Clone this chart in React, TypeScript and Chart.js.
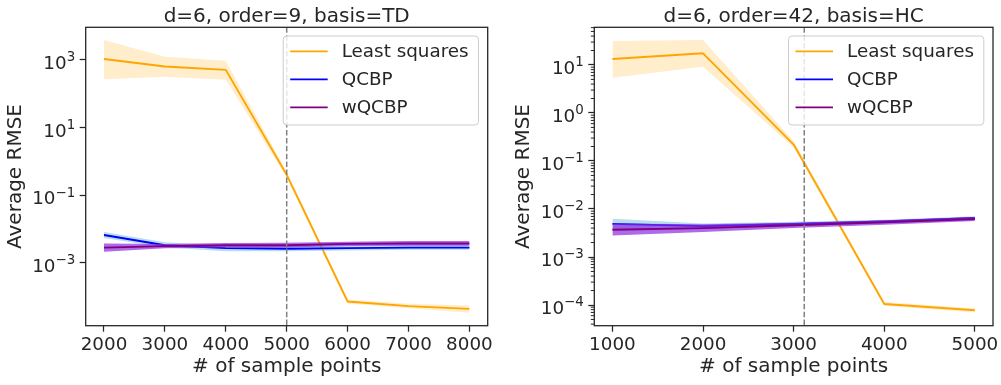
import React, { useEffect, useRef } from "react";
import { Chart, registerables } from "chart.js";

Chart.register(...registerables);

const FONT_FAMILY = '"DejaVu Sans", "Noto Sans", sans-serif';
const TEXT_COLOR = "#262626";
const TICK_FONT = 18.33;
const EXP_FONT = 13.4;
const LABEL_FONT = 20;

// ---- shared series info ----
const seriesLabels = ["Least squares", "QCBP", "wQCBP"];
const lineColors = ["#FFA500", "#0000FF", "#800080"];
const bandColors = ["rgba(255,165,0,0.2)", "rgba(135,200,220,0.6)", "rgba(138,43,226,0.7)"];
const xAxisLabel = "# of sample points";
const yAxisLabel = "Average RMSE";

// ---- left panel ----
const leftTitle = "d=6, order=9, basis=TD";
const leftSamples = [2000, 3000, 4000, 5000, 6000, 7000, 8000];
const leftLsMean = [1070, 640, 510, 0.4, 7.1e-5, 5.2e-5, 4.3e-5];
const leftLsUpper = [3900, 1250, 950, 0.49, 8.1e-5, 6.1e-5, 5.4e-5];
const leftLsLower = [270, 320, 260, 0.33, 6.2e-5, 4.5e-5, 3.3e-5];
const leftQcbpMean = [0.0066, 0.0033, 0.0027, 0.0026, 0.0027, 0.0028, 0.0028];
const leftQcbpUpper = [0.0081, 0.004, 0.0032, 0.0031, 0.0032, 0.0033, 0.0033];
const leftQcbpLower = [0.0054, 0.0028, 0.0022, 0.0022, 0.0023, 0.0024, 0.0024];
const leftWqcbpMean = [0.0028, 0.0031, 0.0033, 0.0033, 0.0036, 0.0037, 0.0037];
const leftWqcbpUpper = [0.0037, 0.0036, 0.0038, 0.0039, 0.0042, 0.0044, 0.0044];
const leftWqcbpLower = [0.0021, 0.0027, 0.0028, 0.0028, 0.0031, 0.0032, 0.0032];
const leftXTicks = [2000, 3000, 4000, 5000, 6000, 7000, 8000];
const leftYTickExps = [-3, -1, 1, 3];
const leftMinorExps: number[] = [];
const leftThreshold = 5000;

// ---- right panel ----
const rightTitle = "d=6, order=42, basis=HC";
const rightSamples = [1000, 2000, 3000, 4000, 5000];
const rightLsMean = [13.3, 17.5, 0.22, 1.05e-4, 7.8e-5];
const rightLsUpper = [31.6, 33, 0.26, 1.15e-4, 8.6e-5];
const rightLsLower = [5.4, 9.2, 0.19, 0.96e-4, 7.0e-5];
const rightQcbpMean = [0.0049, 0.0044, 0.0049, 0.0055, 0.0065];
const rightQcbpUpper = [0.0063, 0.005, 0.0054, 0.006, 0.0071];
const rightQcbpLower = [0.0038, 0.0038, 0.0044, 0.005, 0.0059];
const rightWqcbpMean = [0.0037, 0.004, 0.0046, 0.0053, 0.0062];
const rightWqcbpUpper = [0.005, 0.0048, 0.0052, 0.0058, 0.0068];
const rightWqcbpLower = [0.0028, 0.0033, 0.004, 0.0047, 0.0056];
const rightXTicks = [1000, 2000, 3000, 4000, 5000];
const rightYTickExps = [-4, -3, -2, -1, 0, 1];
const rightMinorExps = [-5, -4, -3, -2, -1, 0, 1];
const rightThreshold = 3117;

const expText = (e: number) => (e < 0 ? "\u2212" + String(-e) : String(e));

type PanelCfg = {
  title: string;
  x: number[];
  series: { mean: number[]; upper: number[]; lower: number[] }[];
  xTicks: number[];
  yExps: number[];
  minorExps: number[];
  threshold: number;
  xMin: number; xMax: number; yMin: number; yMax: number;
  yAxisWidth: number; padRight: number; yTitlePad: number;
};

const leftCfg: PanelCfg = {
  title: leftTitle,
  x: leftSamples,
  series: [
    { mean: leftLsMean, upper: leftLsUpper, lower: leftLsLower },
    { mean: leftQcbpMean, upper: leftQcbpUpper, lower: leftQcbpLower },
    { mean: leftWqcbpMean, upper: leftWqcbpUpper, lower: leftWqcbpLower },
  ],
  xTicks: leftXTicks,
  yExps: leftYTickExps,
  minorExps: leftMinorExps,
  threshold: leftThreshold,
  xMin: 1700, xMax: 8300, yMin: Math.pow(10, -4.864), yMax: Math.pow(10, 3.967),
  yAxisWidth: 85.7, padRight: 12.3, yTitlePad: 3.7,
};

const rightCfg: PanelCfg = {
  title: rightTitle,
  x: rightSamples,
  series: [
    { mean: rightLsMean, upper: rightLsUpper, lower: rightLsLower },
    { mean: rightQcbpMean, upper: rightQcbpUpper, lower: rightQcbpLower },
    { mean: rightWqcbpMean, upper: rightWqcbpUpper, lower: rightWqcbpLower },
  ],
  xTicks: rightXTicks,
  yExps: rightYTickExps,
  minorExps: rightMinorExps,
  threshold: rightThreshold,
  xMin: 800, xMax: 5200, yMin: Math.pow(10, -4.431), yMax: Math.pow(10, 1.785),
  yAxisWidth: 94.3, padRight: 4.3, yTitlePad: 12,
};

function makeDecor(cfg: PanelCfg) {
  return {
    id: "panelDecor",
    afterDatasetsDraw(chart: any) {
      const { ctx, chartArea: a, scales } = chart;
      ctx.save();
      // threshold line
      const vx = scales.x.getPixelForValue(cfg.threshold);
      ctx.strokeStyle = "#808080";
      ctx.lineWidth = 1.5;
      ctx.setLineDash([5.5, 2.4]);
      ctx.beginPath();
      ctx.moveTo(vx, a.top);
      ctx.lineTo(vx, a.bottom);
      ctx.stroke();
      ctx.setLineDash([]);
      // minor ticks
      ctx.strokeStyle = TEXT_COLOR;
      ctx.lineWidth = 1;
      for (const e of cfg.minorExps) {
        for (let k = 2; k <= 9; k++) {
          const v = k * Math.pow(10, e);
          if (v < cfg.yMin || v > cfg.yMax) continue;
          const y = scales.y.getPixelForValue(v);
          ctx.beginPath();
          ctx.moveTo(a.left - 3.5, y);
          ctx.lineTo(a.left, y);
          ctx.stroke();
        }
      }
      // frame
      ctx.strokeStyle = TEXT_COLOR;
      ctx.lineWidth = 1.3;
      ctx.strokeRect(a.left, a.top, a.right - a.left, a.bottom - a.top);
      ctx.restore();
    },
    afterDraw(chart: any) {
      const { ctx, chartArea: a, scales } = chart;
      ctx.save();
      ctx.fillStyle = TEXT_COLOR;
      // y tick labels 10^e, positioned by the y scale
      ctx.textAlign = "left";
      ctx.textBaseline = "alphabetic";
      const xr = a.left - 10.5;
      for (const e of cfg.yExps) {
        const y = scales.y.getPixelForValue(Math.pow(10, e));
        const ex = expText(e);
        ctx.font = `${EXP_FONT}px ${FONT_FAMILY}`;
        const we = ctx.measureText(ex).width;
        ctx.font = `${TICK_FONT}px ${FONT_FAMILY}`;
        const wm = ctx.measureText("10").width;
        ctx.fillText("10", xr - we - wm, y + 9.0);
        ctx.font = `${EXP_FONT}px ${FONT_FAMILY}`;
        ctx.fillText(ex, xr - we, y + 1.4);
      }
      // title
      ctx.font = `${LABEL_FONT}px ${FONT_FAMILY}`;
      ctx.textAlign = "center";
      ctx.fillText(cfg.title, (a.left + a.right) / 2, 22.3);
      // legend
      const bw = 195.3;
      const bh = 89;
      const bx = a.right - 9.2 - bw;
      const by = a.top + 8.7;
      ctx.beginPath();
      ctx.roundRect(bx, by, bw, bh, 3.5);
      ctx.fillStyle = "rgba(255,255,255,0.8)";
      ctx.fill();
      ctx.strokeStyle = "#cccccc";
      ctx.lineWidth = 1;
      ctx.stroke();
      ctx.font = `${TICK_FONT}px ${FONT_FAMILY}`;
      ctx.textAlign = "left";
      ctx.textBaseline = "middle";
      seriesLabels.forEach((lab, i) => {
        const y = by + 15.3 + i * 28;
        ctx.strokeStyle = lineColors[i];
        ctx.lineWidth = 1.8;
        ctx.beginPath();
        ctx.moveTo(bx + 7, y);
        ctx.lineTo(bx + 44.5, y);
        ctx.stroke();
        ctx.fillStyle = TEXT_COLOR;
        ctx.fillText(lab, bx + 58.5, y + 0.5);
      });
      ctx.restore();
    },
  };
}

function Panel({ cfg, left, width }: { cfg: PanelCfg; left: number; width: number }) {
  const ref = useRef<HTMLCanvasElement>(null);
  useEffect(() => {
    const canvas = ref.current;
    if (!canvas) return;
    const datasets: any[] = [];
    let j = 0;
    cfg.series.forEach((s, i) => {
      datasets.push({
        label: seriesLabels[i] + " upper",
        data: cfg.x.map((x, k) => ({ x, y: s.upper[k] })),
        borderWidth: 0, pointRadius: 0, fill: "+1", backgroundColor: bandColors[i], order: 100 - j++,
      });
      datasets.push({
        label: seriesLabels[i] + " lower",
        data: cfg.x.map((x, k) => ({ x, y: s.lower[k] })),
        borderWidth: 0, pointRadius: 0, fill: false, order: 100 - j++,
      });
      datasets.push({
        label: seriesLabels[i],
        data: cfg.x.map((x, k) => ({ x, y: s.mean[k] })),
        borderColor: lineColors[i], borderWidth: 1.9, pointRadius: 0, fill: false,
        borderJoinStyle: "round", tension: 0, order: 100 - j++,
      });
    });
    const tickFont = { family: FONT_FAMILY, size: TICK_FONT };
    const labelFont = { family: FONT_FAMILY, size: LABEL_FONT };
    const chart = new Chart(canvas, {
      type: "line",
      data: { datasets },
      plugins: [makeDecor(cfg)],
      options: {
        responsive: false,
        animation: false,
        events: [],
        layout: { padding: { left: 0, right: cfg.padRight, top: 27.3, bottom: 0 } },
        plugins: { legend: { display: false }, tooltip: { enabled: false }, title: { display: false } },
        scales: {
          x: {
            type: "linear",
            min: cfg.xMin,
            max: cfg.xMax,
            afterBuildTicks: (s: any) => { s.ticks = cfg.xTicks.map((v) => ({ value: v })); },
            afterFit: (s: any) => { s.height = 385 - 325.7; },
            ticks: { callback: (v: any) => String(v), font: tickFont, color: TEXT_COLOR, padding: 2.6, autoSkip: false, maxRotation: 0 },
            grid: { drawOnChartArea: false, drawTicks: true, tickLength: 6, tickColor: TEXT_COLOR, tickWidth: 1.25 },
            border: { display: false },
            title: { display: true, text: xAxisLabel, font: labelFont, color: TEXT_COLOR, padding: { top: 0, bottom: 6 } },
          },
          y: {
            type: "logarithmic",
            min: cfg.yMin,
            max: cfg.yMax,
            afterBuildTicks: (s: any) => { s.ticks = cfg.yExps.map((e) => ({ value: Math.pow(10, e) })); },
            afterFit: (s: any) => { s.width = cfg.yAxisWidth; },
            ticks: { display: false, autoSkip: false },
            grid: { drawOnChartArea: false, drawTicks: true, tickLength: 6, tickColor: TEXT_COLOR, tickWidth: 1.25 },
            border: { display: false },
            title: { display: true, text: yAxisLabel, font: labelFont, color: TEXT_COLOR, padding: { top: cfg.yTitlePad, bottom: 0 } },
          },
        },
      } as any,
    });
    return () => chart.destroy();
  }, [cfg]);
  return (
    <canvas
      ref={ref}
      width={width}
      height={385}
      style={{ position: "absolute", left, top: 0, width: `${width}px`, height: "385px" }}
    />
  );
}

export default function App() {
  return (
    <div style={{ position: "absolute", left: 0, top: 0, width: 1001, height: 385, background: "#ffffff", overflow: "hidden" }}>
      <Panel cfg={leftCfg} left={0} width={500} />
      <Panel cfg={rightCfg} left={500} width={501} />
    </div>
  );
}
